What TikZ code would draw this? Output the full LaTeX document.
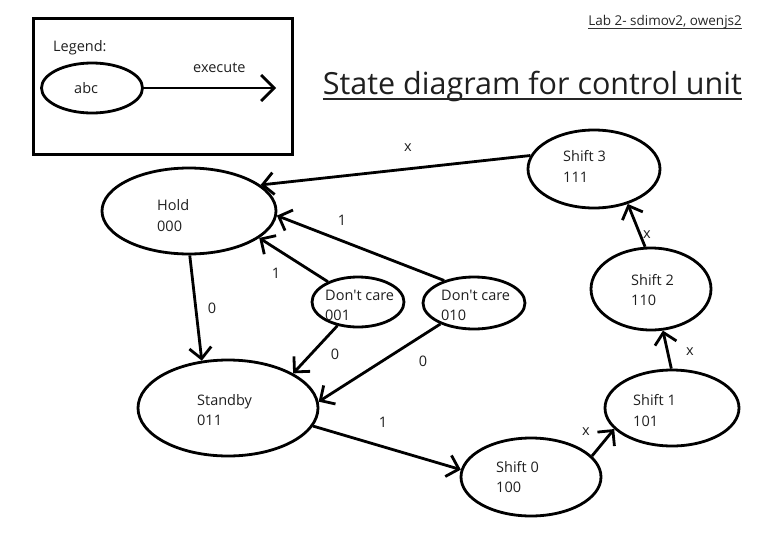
\documentclass[tikz,border=0pt]{standalone}
\usepackage{fontspec}
\setmainfont{Open Sans}
\newfontfamily\plainfont{Open Sans}
\usetikzlibrary{arrows.meta,shapes.geometric}
\begin{document}
\begin{tikzpicture}[x=1pt,y=-1pt,
  st/.style={ellipse,draw,line width=2.8pt,inner sep=0pt},
  lbl/.style={anchor=base west,inner sep=0pt,font=\plainfont\fontsize{14.5}{17}\selectfont,text=black!88},
  elbl/.style={inner sep=0pt,font=\fontsize{14.5}{17}\selectfont,text=black!88},
  tr/.style={line width=2.8pt,-{Straight Barb[length=11pt,width=22pt]}}]
\useasboundingbox (0,0) rectangle (784,533);
% legend
\node[draw,line width=3pt,minimum width=259pt,minimum height=136pt,anchor=north west] (legbox) at (32,17) {};
\node[lbl] (legt) at (53,51) {Legend:};
\node[st,minimum width=101pt,minimum height=50pt] (abc) at (92,88) {};
\node[lbl] (abct) at (74,93) {abc};
\coordinate (legend end) at (276,88);
\draw[tr,-{Straight Barb[length=13pt,width=26pt]}] (abc.east) -- (legend end);
\node[lbl] (exect) at (193,72) {execute};
% titles
\node[anchor=base east,inner sep=0pt,font=\fontsize{13.5}{16}\selectfont,text=black!85] (lab) at (742,25) {Lab 2- sdimov2, owenjs2};
\draw[line width=0.9pt,black!80] ([yshift=-3pt]lab.base west) -- ([yshift=-3pt]lab.base east);
\node[anchor=base east,inner sep=0pt,font=\fontsize{30.5}{34}\selectfont,text=black!88] (title) at (742,94) {State diagram for control unit};
\draw[line width=1.6pt,black!85] ([yshift=-5pt]title.base west) -- ([yshift=-5pt]title.base east);
% states
\node[st,minimum width=174pt,minimum height=86pt] (hold) at (189,211) {};
\node[lbl] at (157,210) {Hold};
\node[lbl] at (157,231) {000};
\node[st,minimum width=180pt,minimum height=96pt] (standby) at (228,408) {};
\node[lbl] at (197,405) {Standby};
\node[lbl] at (197,425) {011};
\node[st,minimum width=92pt,minimum height=50pt] (dc1) at (358,302) {};
\node[lbl] at (325,300) {Don't care};
\node[lbl] at (325,320) {001};
\node[st,minimum width=102pt,minimum height=52pt] (dc2) at (474,303) {};
\node[lbl] at (441,300) {Don't care};
\node[lbl] at (441,320) {010};
\node[st,minimum width=140pt,minimum height=78pt] (s0) at (531,477) {};
\node[lbl] at (496,472) {Shift 0};
\node[lbl] at (496,492) {100};
\node[st,minimum width=134pt,minimum height=76pt] (s1) at (672,408) {};
\node[lbl] at (633,405) {Shift 1};
\node[lbl] at (633,426) {101};
\node[st,minimum width=120pt,minimum height=82pt] (s2) at (651,289) {};
\node[lbl] at (631,285) {Shift 2};
\node[lbl] at (631,305) {110};
\node[st,minimum width=132pt,minimum height=78pt] (s3) at (594,169) {};
\node[lbl] at (563,161) {Shift 3};
\node[lbl] at (563,182) {111};
% transitions
\draw[tr] (s3.168) -- (hold.20.6);
\draw[tr] (hold.271) -- (standby.119);
\draw[tr] (dc1.146) -- (hold.-21.7);
\draw[tr] (dc2.143) -- (hold.-3);
\draw[tr] (dc1.229) -- (standby.28);
\draw[tr] (dc2.212) -- (standby.4);
\draw[tr] (standby.-12.5) -- (s0.174);
\draw[tr] (s0.19) -- (s1.200);
\draw[tr] (s1.91.5) -- (s2.286);
\draw[tr] (s2.98) -- (s3.314);
% labels
\node[elbl] (lx1) at (408,148) {x};
\node[elbl] (l0a) at (212,308) {0};
\node[elbl] (l1a) at (276,273) {1};
\node[elbl] (l1b) at (342,220) {1};
\node[elbl] (l0b) at (335,354) {0};
\node[elbl] (l0c) at (423,361) {0};
\node[elbl] (l1c) at (383,422) {1};
\node[elbl] (lx2) at (586,432) {x};
\node[elbl] (lx3) at (690,352) {x};
\node[elbl] (lx4) at (647,235) {x};
\end{tikzpicture}
\end{document}
